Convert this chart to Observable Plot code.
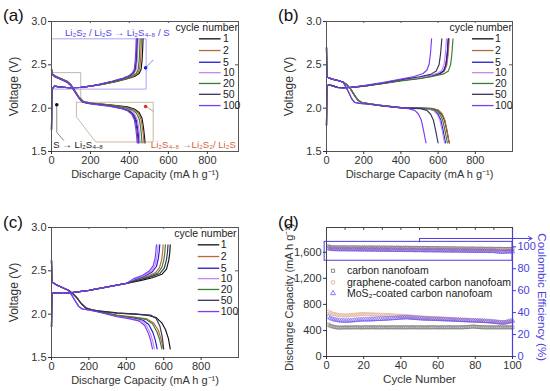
<!DOCTYPE html>
<html><head><meta charset="utf-8">
<script src="https://cdn.jsdelivr.net/npm/d3@7"></script>
<script src="https://cdn.jsdelivr.net/npm/@observablehq/plot@0.6"></script>
<style>
body{margin:0;background:#fff;font-family:"Liberation Sans",Arial,sans-serif}
#wrap{position:relative;width:550px;height:391px;overflow:hidden}
.panel{position:absolute}
.tag{position:absolute;font-size:17px;color:#111;line-height:1}
</style></head><body><div id="wrap"></div>
<script>
// ---------- shared categories / ticks ----------
const cycles = ["1","2","5","10","20","50","100"];
const cycleColors = ["#111111","#b8673c","#2418d0","#c684f7","#3a7d2c","#34345c","#7a3cf2"];
const capTicks = [0,200,400,600,800];
const voltTicks = [1.5,2.0,2.5,3.0];
const legendV = [2.80,2.665,2.53,2.41,2.285,2.16,2.03];

// ---------- panel (a) ----------
const dischargeA = [
 [[0,2.45],[2,2.40],[20,2.37],[50,2.34],[80,2.31],[100,2.27],[120,2.20],[140,2.13],[165,2.075],[200,2.06],[300,2.04],[390,2.015],[425,1.99],[450,1.95],[465,1.88],[472,1.78],[477,1.68],[480,1.60]],
 [[0,2.45],[2,2.40],[20,2.37],[50,2.34],[80,2.31],[100,2.27],[120,2.20],[140,2.13],[165,2.075],[200,2.058],[300,2.035],[385,2.01],[420,1.985],[445,1.945],[460,1.87],[467,1.77],[472,1.68],[475,1.60]],
 [[0,2.45],[2,2.39],[20,2.36],[50,2.33],[80,2.30],[100,2.26],[120,2.19],[140,2.12],[160,2.07],[200,2.055],[300,2.03],[370,2.0],[400,1.975],[422,1.93],[436,1.86],[443,1.76],[447,1.68],[450,1.60]],
 [[0,2.45],[2,2.39],[20,2.36],[50,2.33],[80,2.30],[100,2.26],[120,2.19],[140,2.12],[160,2.07],[200,2.055],[300,2.03],[375,2.0],[405,1.975],[427,1.93],[441,1.86],[448,1.76],[452,1.68],[455,1.60]],
 [[0,2.45],[2,2.395],[20,2.365],[50,2.335],[80,2.305],[100,2.265],[120,2.195],[140,2.125],[162,2.072],[200,2.057],[300,2.035],[380,2.005],[413,1.98],[437,1.94],[451,1.87],[458,1.77],[462,1.68],[465,1.60]],
 [[0,2.45],[2,2.39],[20,2.36],[50,2.33],[80,2.30],[100,2.26],[120,2.19],[140,2.12],[160,2.07],[200,2.052],[300,2.025],[365,1.995],[395,1.97],[417,1.93],[431,1.86],[438,1.76],[442,1.68],[445,1.60]],
 [[0,2.45],[2,2.39],[20,2.36],[50,2.33],[80,2.30],[100,2.26],[120,2.19],[140,2.12],[160,2.07],[200,2.05],[300,2.02],[360,1.995],[390,1.97],[412,1.93],[426,1.86],[433,1.76],[437,1.68],[440,1.60]]
];
const chargeA = [
 [[0,1.75],[2,2.22],[15,2.255],[40,2.245],[90,2.235],[150,2.24],[200,2.255],[260,2.275],[330,2.305],[390,2.34],[430,2.37],[450,2.40],[460,2.45],[465,2.55],[468,2.68],[470,2.80]],
 [[0,1.75],[2,2.22],[15,2.255],[40,2.245],[90,2.235],[150,2.24],[200,2.255],[260,2.275],[325,2.305],[385,2.34],[422,2.37],[442,2.40],[452,2.45],[457,2.55],[460,2.68],[462,2.80]],
 [[0,1.75],[2,2.22],[15,2.255],[40,2.245],[90,2.235],[150,2.24],[200,2.255],[250,2.275],[315,2.31],[370,2.345],[402,2.375],[420,2.405],[430,2.45],[435,2.55],[438,2.68],[440,2.80]],
 [[0,1.75],[2,2.22],[15,2.255],[40,2.245],[90,2.235],[150,2.24],[200,2.255],[255,2.275],[318,2.31],[373,2.345],[407,2.375],[425,2.405],[435,2.45],[440,2.55],[443,2.68],[445,2.80]],
 [[0,1.75],[2,2.22],[15,2.255],[40,2.245],[90,2.235],[150,2.24],[200,2.255],[258,2.275],[322,2.305],[380,2.34],[415,2.37],[435,2.40],[445,2.45],[450,2.55],[453,2.68],[455,2.80]],
 [[0,1.75],[2,2.22],[15,2.255],[40,2.245],[90,2.235],[150,2.24],[200,2.255],[250,2.277],[316,2.31],[371,2.345],[403,2.375],[421,2.405],[430,2.45],[435,2.55],[438,2.68],[440,2.80]],
 [[0,1.75],[2,2.22],[15,2.255],[40,2.245],[90,2.235],[150,2.24],[200,2.255],[245,2.275],[310,2.31],[365,2.345],[397,2.375],[415,2.405],[425,2.45],[430,2.55],[433,2.68],[435,2.80]]
];
// annotations of panel (a), in data units
const annBlueBox = [[0,2.80],[486,2.80],[486,2.22],[0,2.22],[0,2.80]];
const annGreyBox = [[0,2.41],[150,2.41],[150,2.065]];
const annTanShape = [[128,2.068],[522,2.068],[522,1.61],[227,1.61],[128,1.90],[128,2.068]];
const annBlueLeader = [[483,2.465],[522,2.555]];
const annRedLeader = [[483,2.02],[522,1.965]];
const annBlackLeader = [[27,2.04],[27,1.72],[62,1.63]];
const annDots = [{cap:483,v:2.465,c:"#2020e0"},{cap:483,v:2.02,c:"#e03020"},{cap:27,v:2.04,c:"#111"}];
const annBlueText = {cap:338,v:2.872,t:"Li₂S₂ / Li₂S → Li₂S₄₋₈ / S"};
const annRedText = {cap:728,v:1.578,t:"Li₂S₄₋₈ →Li₂S₂/ Li₂S"};
const annBlackText = {cap:9,v:1.578,t:"S → Li₂S₄₋₈"};

// ---------- panel (b) ----------
const dischargeB = [
 [[0,2.70],[2,2.36],[30,2.335],[60,2.32],[90,2.30],[110,2.27],[130,2.22],[150,2.15],[170,2.09],[190,2.065],[230,2.05],[300,2.03],[400,2.007],[565,1.995],[600,1.975],[620,1.93],[635,1.86],[647,1.74],[655,1.65],[660,1.60]],
 [[0,2.70],[2,2.36],[30,2.335],[60,2.32],[90,2.30],[110,2.27],[130,2.22],[150,2.15],[170,2.09],[190,2.065],[230,2.05],[300,2.03],[400,2.008],[568,1.998],[602,1.978],[622,1.935],[636,1.865],[648,1.745],[655,1.65],[660,1.60]],
 [[0,2.70],[2,2.36],[30,2.335],[60,2.32],[90,2.30],[110,2.27],[130,2.22],[150,2.15],[170,2.09],[190,2.065],[230,2.05],[300,2.03],[400,2.006],[545,1.995],[580,1.975],[600,1.93],[615,1.86],[627,1.74],[635,1.65],[640,1.60]],
 [[0,2.70],[2,2.36],[30,2.335],[60,2.32],[90,2.30],[110,2.27],[130,2.22],[150,2.15],[170,2.09],[190,2.065],[230,2.05],[300,2.03],[400,2.005],[540,1.995],[575,1.975],[595,1.93],[610,1.86],[622,1.74],[630,1.65],[635,1.60]],
 [[0,2.70],[2,2.36],[30,2.335],[60,2.32],[90,2.30],[110,2.27],[130,2.22],[150,2.15],[170,2.09],[190,2.065],[230,2.05],[300,2.03],[400,2.007],[555,1.995],[590,1.975],[610,1.93],[625,1.86],[637,1.74],[645,1.65],[650,1.60]],
 [[0,2.70],[2,2.36],[30,2.335],[60,2.32],[90,2.30],[100,2.26],[118,2.19],[135,2.11],[152,2.065],[180,2.055],[230,2.045],[300,2.025],[400,2.003],[505,1.995],[540,1.975],[560,1.93],[575,1.86],[587,1.74],[595,1.65],[600,1.60]],
 [[0,2.70],[2,2.36],[30,2.335],[60,2.32],[90,2.30],[100,2.26],[118,2.19],[135,2.11],[152,2.065],[180,2.055],[230,2.045],[300,2.025],[400,2.003],[440,1.995],[475,1.975],[495,1.93],[510,1.86],[522,1.74],[530,1.65],[535,1.60]]
];
const chargeB = [
 [[0,1.80],[2,2.25],[10,2.27],[30,2.26],[60,2.24],[90,2.235],[130,2.24],[200,2.255],[300,2.285],[400,2.32],[500,2.345],[560,2.37],[610,2.40],[630,2.43],[642,2.50],[649,2.62],[655,2.80]],
 [[0,1.80],[2,2.25],[10,2.27],[30,2.26],[60,2.24],[90,2.235],[130,2.24],[200,2.255],[300,2.285],[400,2.32],[500,2.345],[565,2.37],[615,2.40],[635,2.43],[647,2.50],[654,2.62],[660,2.80]],
 [[0,1.80],[2,2.25],[10,2.27],[30,2.26],[60,2.24],[90,2.235],[130,2.24],[200,2.255],[300,2.286],[400,2.321],[500,2.347],[560,2.372],[610,2.402],[630,2.43],[642,2.50],[649,2.62],[655,2.80]],
 [[0,1.80],[2,2.25],[10,2.27],[30,2.26],[60,2.24],[90,2.235],[130,2.24],[200,2.256],[300,2.287],[400,2.323],[500,2.35],[555,2.375],[600,2.405],[620,2.435],[632,2.50],[639,2.62],[645,2.80]],
 [[0,1.80],[2,2.25],[10,2.27],[30,2.26],[60,2.24],[90,2.235],[130,2.24],[200,2.254],[300,2.283],[400,2.315],[500,2.34],[570,2.365],[630,2.395],[655,2.43],[667,2.50],[674,2.62],[680,2.80]],
 [[0,1.80],[2,2.25],[10,2.27],[30,2.26],[60,2.24],[90,2.235],[130,2.24],[200,2.258],[300,2.29],[400,2.33],[500,2.362],[560,2.39],[590,2.43],[605,2.50],[613,2.62],[620,2.80]],
 [[0,1.80],[2,2.25],[10,2.27],[30,2.255],[60,2.235],[90,2.23],[130,2.24],[200,2.26],[300,2.295],[400,2.335],[470,2.365],[520,2.40],[540,2.44],[552,2.51],[559,2.63],[565,2.80]]
];

// ---------- panel (c) ----------
const dischargeC = [
 [[0,2.62],[2,2.37],[30,2.335],[60,2.305],[90,2.275],[110,2.245],[135,2.19],[160,2.12],[185,2.07],[215,2.05],[250,2.04],[350,2.015],[450,2.0],[520,1.985],[560,1.96],[590,1.90],[610,1.82],[625,1.72],[635,1.60]],
 [[0,2.62],[2,2.37],[30,2.335],[60,2.305],[90,2.275],[110,2.245],[135,2.19],[160,2.12],[185,2.07],[215,2.05],[250,2.03],[350,1.99],[450,1.965],[510,1.945],[545,1.90],[570,1.82],[585,1.72],[598,1.60]],
 [[0,2.62],[2,2.37],[30,2.335],[60,2.305],[90,2.275],[105,2.23],[125,2.16],[145,2.09],[165,2.06],[200,2.05],[250,2.03],[350,1.98],[440,1.955],[490,1.93],[520,1.88],[542,1.79],[555,1.70],[565,1.60]],
 [[0,2.62],[2,2.37],[30,2.335],[60,2.305],[90,2.275],[105,2.23],[125,2.16],[145,2.09],[165,2.06],[200,2.05],[250,2.03],[350,1.975],[430,1.95],[480,1.925],[508,1.87],[528,1.78],[540,1.70],[550,1.60]],
 [[0,2.62],[2,2.37],[30,2.335],[60,2.305],[90,2.275],[110,2.245],[135,2.19],[160,2.12],[185,2.07],[215,2.05],[250,2.03],[350,1.985],[450,1.96],[505,1.94],[540,1.89],[563,1.80],[578,1.71],[590,1.60]],
 [[0,2.62],[2,2.37],[30,2.335],[60,2.305],[90,2.275],[110,2.245],[135,2.19],[160,2.12],[185,2.07],[215,2.05],[250,2.035],[350,2.01],[450,2.0],[530,1.99],[560,1.95],[580,1.86],[592,1.74],[600,1.60]],
 [[0,2.62],[2,2.37],[30,2.335],[60,2.305],[90,2.275],[105,2.23],[125,2.16],[145,2.09],[165,2.06],[200,2.05],[250,2.025],[350,1.97],[420,1.945],[470,1.92],[498,1.87],[518,1.78],[530,1.70],[540,1.60]]
];
const chargeC = [
 [[0,1.85],[2,2.24],[20,2.245],[60,2.24],[100,2.245],[150,2.26],[200,2.275],[300,2.315],[400,2.355],[480,2.39],[540,2.42],[590,2.46],[615,2.52],[627,2.62],[632,2.70],[635,2.80]],
 [[0,1.85],[2,2.24],[20,2.245],[60,2.24],[100,2.245],[150,2.26],[200,2.275],[300,2.315],[400,2.355],[455,2.40],[510,2.435],[557,2.48],[578,2.54],[589,2.63],[594,2.71],[597,2.80]],
 [[0,1.85],[2,2.24],[20,2.245],[60,2.24],[100,2.245],[150,2.26],[200,2.275],[300,2.315],[400,2.355],[450,2.40],[500,2.44],[540,2.49],[561,2.55],[571,2.64],[576,2.72],[579,2.80]],
 [[0,1.85],[2,2.24],[20,2.245],[60,2.24],[100,2.245],[150,2.26],[200,2.275],[300,2.315],[400,2.355],[445,2.405],[495,2.445],[532,2.495],[552,2.555],[562,2.64],[567,2.72],[570,2.80]],
 [[0,1.85],[2,2.24],[20,2.245],[60,2.24],[100,2.245],[150,2.26],[200,2.275],[300,2.315],[400,2.355],[460,2.395],[520,2.43],[568,2.475],[590,2.54],[601,2.63],[606,2.71],[609,2.80]],
 [[0,1.85],[2,2.24],[20,2.245],[60,2.24],[100,2.245],[150,2.26],[200,2.275],[300,2.315],[400,2.355],[470,2.395],[530,2.43],[580,2.47],[603,2.53],[615,2.63],[620,2.71],[623,2.80]],
 [[0,1.85],[2,2.24],[20,2.245],[60,2.24],[100,2.245],[150,2.26],[200,2.275],[300,2.315],[400,2.355],[440,2.41],[488,2.45],[524,2.50],[544,2.56],[554,2.645],[558,2.72],[561,2.80]]
];

// ---------- panel (d) ----------
const cycleNumberTicks = [0,20,40,60,80,100];
const cycleMinorTicks = [0,10,20,30,40,50,60,70,80,90,100];
const capacityTicks = [0,400,800,1200,1600];
const efficiencyTicks = [0,20,40,60,80,100];
const seriesNames = ["carbon nanofoam","graphene-coated carbon nanofoam","MoS₂-coated carbon nanofoam"];
const seriesSymbols = ["square","circle","triangle"];
const seriesColors = ["#6e6e6e","#dc9f86","#6e58ee"];
const capCarbon = [490,472,462,455,448,445,443,444,446,445,447,446,445,447,446,448,447,446,445,447,448,447,446,448,449,447,446,448,447,446,447,448,446,447,449,448,447,446,448,447,446,447,448,446,447,449,448,447,446,447,448,447,446,447,448,447,449,448,447,446,447,448,446,447,448,449,447,446,448,447,446,448,447,449,450,452,455,458,460,457,454,452,450,449,448,447,446,448,447,446,447,446,448,447,446,447,448,447,446,447];
const capGraphene = [690,672,660,652,646,640,636,632,630,628,630,633,635,638,640,642,645,648,650,652,650,648,646,645,646,644,642,641,640,640,638,636,635,634,632,630,628,626,625,624,622,620,618,616,614,612,610,608,605,603,600,598,596,594,592,590,588,586,585,584,582,580,578,576,575,574,572,570,568,566,565,563,562,560,558,556,555,553,552,550,548,547,545,544,542,540,538,537,535,534,532,531,530,529,528,527,526,528,530,532];
const capMoS2 = [612,592,578,568,562,556,552,549,547,546,547,548,550,552,555,558,560,563,565,567,566,565,566,568,569,570,572,573,574,575,576,578,580,582,584,586,588,590,592,594,596,598,600,598,595,592,590,588,586,584,582,580,579,578,577,576,575,574,573,572,571,570,569,568,567,566,565,564,562,560,558,557,556,555,554,553,552,551,550,549,548,547,546,545,543,541,539,537,535,532,528,524,520,518,516,520,530,538,545,548];
const ceCarbon = [100.5,99.8,99.6,99.5,99.6,99.5,99.4,99.5,99.6,99.5,99.4,99.5,99.4,99.5,99.6,99.4,99.5,99.4,99.3,99.5,99.4,99.3,99.4,99.5,99.3,99.4,99.3,99.4,99.2,99.3,99.4,99.2,99.3,99.2,99.3,99.1,99.2,99.3,99.1,99.2,99.0,99.1,99.2,99.0,99.1,98.9,99.0,99.1,98.9,99.0,98.8,98.9,99.0,98.8,98.9,98.7,98.8,98.9,98.7,98.8,98.6,98.7,98.8,98.6,98.7,98.5,98.6,98.7,98.5,98.6,98.4,98.5,98.6,98.4,98.5,98.3,98.4,98.5,98.3,98.4,98.2,98.3,98.4,98.2,98.3,98.1,98.2,98.3,98.1,98.2,98.0,98.1,98.2,98.0,98.1,97.9,98.0,98.1,97.9,98.0];
const ceGraphene = [99.2,98.8,98.7,98.6,98.7,98.6,98.5,98.6,98.7,98.6,98.5,98.6,98.5,98.4,98.5,98.6,98.4,98.5,98.4,98.3,98.4,98.3,98.4,98.2,98.3,98.4,98.2,98.3,98.1,98.2,98.3,98.1,98.2,98.0,98.1,98.2,98.0,98.1,97.9,98.0,98.1,97.9,98.0,97.8,97.9,98.0,97.8,97.9,97.7,97.8,97.9,97.7,97.8,97.6,97.7,97.8,97.6,97.7,97.5,97.6,97.7,97.5,97.6,97.4,97.5,97.6,97.4,97.5,97.3,97.4,97.5,97.3,97.4,97.2,97.3,97.4,97.2,97.3,97.1,97.2,97.3,97.1,97.2,97.0,97.1,97.2,97.0,97.1,96.9,97.0,97.1,96.9,97.0,96.8,96.9,97.0,96.8,96.9,96.7,96.8];
const ceMoS2 = [98.8,98.0,97.8,97.7,97.8,97.6,97.7,97.5,97.6,97.7,97.5,97.6,97.4,97.5,97.6,97.4,97.5,97.3,97.4,97.5,97.3,97.4,97.2,97.3,97.4,97.2,97.3,97.1,97.2,97.3,97.1,97.2,97.0,97.1,97.2,97.0,97.1,96.9,97.0,97.1,96.9,97.0,96.8,96.9,97.0,96.8,96.9,96.7,96.8,96.9,96.7,96.8,96.6,96.7,96.8,96.6,96.7,96.5,96.6,96.7,96.5,96.6,96.4,96.5,96.6,96.4,96.5,96.3,96.4,96.5,96.3,96.4,96.2,96.3,96.4,96.2,96.3,96.1,96.2,96.3,96.1,96.2,96.0,96.1,96.2,96.0,96.1,95.9,96.0,96.1,95.8,95.6,95.4,95.3,95.2,95.4,95.6,95.7,95.5,95.6];
const ceBox = {x1:-1, x2:100, y1:87.3, y2:104.5};
const ceArrow = [[50,104.5],[50,107.6],[110.5,107.6]];
const legendDY = [1316,1138,970];

// ---------- helpers ----------
const FONT = "'Liberation Sans', Arial, Helvetica, sans-serif";
const wrap = document.getElementById("wrap");
function place(el, left, top) { el.classList.add("panel"); el.style.left = left+"px"; el.style.top = top+"px"; wrap.appendChild(el); }
function tag(text, left, top) { const d = document.createElement("div"); d.className="tag"; d.textContent=text; d.style.left=left+"px"; d.style.top=top+"px"; wrap.appendChild(d); }

function curveRows(dis, chg) {
  const rows = [];
  cycles.forEach((c, i) => {
    dis[i].forEach(([cap, v]) => rows.push({cycle:c, key:c+"d", cap, v}));
    chg[i].forEach(([cap, v]) => rows.push({cycle:c, key:c+"c", cap, v}));
  });
  return rows;
}

function curvePanel({rows, xMax, h, mt, mb, mr, leg, under = [], over = []}) {
  const legendRows = cycles.map((c, i) => ({cycle:c, v:legendV[i]}));
  const tick = 0.022, tickX = xMax * 0.016;
  return Plot.plot({
    width: 275, height: h,
    marginLeft: 51, marginRight: mr, marginTop: mt, marginBottom: mb,
    style: {fontFamily: FONT, fontSize: "11px", color: "#333", background: "transparent", overflow: "visible"},
    x: {domain: [0, xMax]},
    y: {domain: [1.5, 3.0]},
    color: {domain: cycles, range: cycleColors},
    marks: [
      ...under,
      Plot.line(rows, {x:"cap", y:"v", z:"key", stroke:"cycle", strokeWidth:1.15}),
      Plot.frame({stroke:"#555", strokeWidth:1}),
      Plot.axisX({ticks: capTicks, tickSize: 3, tickPadding: 2, label: null}),
      Plot.axisY({ticks: voltTicks, tickSize: 3, tickPadding: 2, tickFormat: d3.format(".1f"), label: null}),
      Plot.ruleX(capTicks, {x: d => d, y1: 3.0, y2: 3.0 - tick, stroke:"#555"}),
      Plot.ruleY(voltTicks, {y: d => d, x1: xMax, x2: xMax - tickX, stroke:"#555"}),
      Plot.text(["Discharge Capacity (mA h g⁻¹)"], {x: xMax * 0.5, y: 1.5, dy: 23, fontSize: 11, fill:"#333"}),
      Plot.text(["Voltage (V)"], {x: 0, y: 2.25, dx: -37, rotate: -90, fontSize: 12, fill:"#333"}),
      Plot.text(["cycle number"], {x: leg.titleX, y: 2.925, textAnchor:"end", fontSize: 10.5, fill:"#222"}),
      Plot.link(legendRows, {x1: leg.x1, x2: leg.x2, y1:"v", y2:"v", stroke:"cycle", strokeWidth: 1.3}),
      Plot.text(legendRows, {x: leg.tx, y:"v", text:"cycle", textAnchor:"start", fontSize: 10.5, fill:"#222"}),
      ...over
    ]
  });
}

// ---------- panel (a) ----------
const xy = {x: d=>d[0], y: d=>d[1]};
const annUnder = [
  Plot.line(annBlueBox, {...xy, stroke:"#a9a6f2", strokeWidth:1}),
  Plot.line(annGreyBox, {...xy, stroke:"#b9b9b9", strokeWidth:1}),
  Plot.line(annTanShape, {...xy, stroke:"#cbb9a6", strokeWidth:1}),
  Plot.line(annBlueLeader, {...xy, stroke:"#8d88ee", strokeWidth:1}),
  Plot.line(annRedLeader, {...xy, stroke:"#b9a48c", strokeWidth:1}),
  Plot.line(annBlackLeader, {...xy, stroke:"#8a8a8a", strokeWidth:1})
];
const annOver = [
  Plot.dot(annDots, {x:"cap", y:"v", fill:"c", r: 1.8}),
  Plot.text([annBlueText], {x:"cap", y:"v", text:"t", fill:"#5546e0", textAnchor:"middle", fontSize: 9.6}),
  Plot.text([annRedText], {x:"cap", y:"v", text:"t", fill:"#d0643c", textAnchor:"middle", fontSize: 9.6}),
  Plot.text([annBlackText], {x:"cap", y:"v", text:"t", fill:"#222", textAnchor:"start", fontSize: 9.6})
];
const plotA = curvePanel({rows: curveRows(dischargeA, chargeA), xMax: 960, h: 195, mt: 21, mb: 44, mr: 37,
  leg: {x1: 757, x2: 868, tx: 880, titleX: 957}, under: annUnder, over: annOver});
place(plotA, 0, 0);

// ---------- panel (b) ----------
const plotB = curvePanel({rows: curveRows(dischargeB, chargeB), xMax: 1000, h: 195, mt: 21, mb: 44, mr: 38,
  leg: {x1: 782, x2: 898, tx: 906, titleX: 997}});
place(plotB, 275, 0);

// ---------- panel (c) ----------
const plotC = curvePanel({rows: curveRows(dischargeC, chargeC), xMax: 1000, h: 196, mt: 32, mb: 34, mr: 37,
  leg: {x1: 782, x2: 897, tx: 905, titleX: 990}});
place(plotC, 0, 195);

// ---------- panel (d) ----------
const yMaxD = 1980, ceMax = 117.6, kCE = yMaxD / ceMax;
const capRows = [], ceRows = [];
[capCarbon, capGraphene, capMoS2].forEach((arr, s) => arr.forEach((v, i) => capRows.push({s: seriesNames[s], cyc: i+1, v})));
[ceCarbon, ceGraphene, ceMoS2].forEach((arr, s) => arr.forEach((v, i) => ceRows.push({s: seriesNames[s], cyc: i+1, v: v * kCE})));
const legRowsD = seriesNames.map((s, i) => ({s, v: legendDY[i]}));
const blue = "#4a3ee0";
const plotD = Plot.plot({
  width: 275, height: 196, marginLeft: 51, marginRight: 38, marginTop: 32, marginBottom: 35,
  style: {fontFamily: FONT, fontSize: "11px", color: "#333", background: "transparent", overflow: "visible"},
  x: {domain: [0, 100]},
  y: {domain: [0, yMaxD]},
  color: {domain: seriesNames, range: seriesColors},
  symbol: {domain: seriesNames, range: seriesSymbols},
  marks: [
    Plot.dot(ceRows, {x:"cyc", y:"v", stroke:"s", symbol:"s", r: 1.7, strokeWidth: 0.6}),
    Plot.dot(capRows, {x:"cyc", y:"v", stroke:"s", symbol:"s", r: 1.7, strokeWidth: 0.6}),
    Plot.rect([ceBox], {x1: d=>d.x1, x2: d=>d.x2, y1: d=>d.y1*kCE, y2: d=>d.y2*kCE, stroke: blue, fill:"none", strokeWidth: 1}),
    Plot.line(ceArrow.slice(0,2), {x: d=>d[0], y: d=>d[1]*kCE, stroke: blue, strokeWidth: 1}),
    Plot.arrow([ceArrow.slice(1)], {x1: d=>d[0][0], y1: d=>d[0][1]*kCE, x2: d=>d[1][0], y2: d=>d[1][1]*kCE, stroke: blue, strokeWidth: 1, headLength: 6}),
    Plot.frame({stroke:"#444"}),
    Plot.ruleX([100], {stroke: blue, strokeWidth: 1.2}),
    Plot.axisX({ticks: cycleNumberTicks, tickSize: 3, tickPadding: 2, label: null}),
    Plot.axisY({ticks: capacityTicks, tickSize: 3, tickPadding: 2, label: null}),
    Plot.axisY(efficiencyTicks.map(v => v * kCE), {anchor: "right", tickFormat: d => String(Math.round(d / kCE)), tickSize: 3, tickPadding: 2, color: blue, label: null}),
    Plot.ruleX(cycleMinorTicks, {x: d => d, y1: yMaxD, y2: yMaxD - 45, stroke:"#444"}),
    Plot.text(["Cycle Number"], {x: 50, y: 0, dy: 23, fontSize: 11.5, fill:"#333"}),
    Plot.text(["Discharge Capacity (mA h g⁻¹)"], {x: 0, y: yMaxD * 0.46, dx: -37, rotate: -90, fontSize: 11, fill:"#333"}),
    Plot.text(["Coulombic Efficiency (%)"], {x: 100, y: yMaxD * 0.46, dx: 29, rotate: 90, fontSize: 11.5, fill: blue}),
    Plot.dot(legRowsD, {x: 3.5, y:"v", stroke:"s", symbol:"s", r: 1.8, strokeWidth: 0.8}),
    Plot.text(legRowsD, {x: 11, y:"v", text:"s", textAnchor:"start", fontSize: 10.5, fill:"#222"})
  ]
});
place(plotD, 275, 195);

// ---------- panel tags ----------
tag("(a)", 3, 7);
tag("(b)", 278, 7);
tag("(c)", 3, 214);
tag("(d)", 278, 214);
</script></body></html>
